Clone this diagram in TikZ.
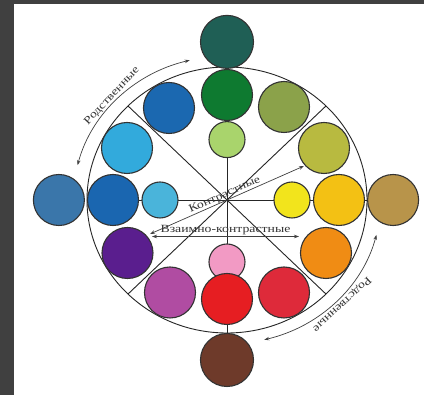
\documentclass[tikz,border=0pt]{standalone}
\usepackage{fontspec}
\setmainfont{Liberation Serif}
\newfontfamily\wheelfont[FakeStretch=1.25]{Liberation Serif}
\usetikzlibrary{arrows.meta, positioning}

\definecolor{framegray}{RGB}{64,64,64}
\definecolor{cTeal}{RGB}{31,95,85}
\definecolor{cGreen}{RGB}{14,122,48}
\definecolor{cLightGreen}{RGB}{169,212,108}
\definecolor{cOlive}{RGB}{139,162,74}
\definecolor{cYellowOlive}{RGB}{184,186,64}
\definecolor{cYellow}{RGB}{242,228,28}
\definecolor{cYellowOrange}{RGB}{243,193,20}
\definecolor{cTan}{RGB}{184,148,74}
\definecolor{cOrange}{RGB}{240,140,20}
\definecolor{cRedRight}{RGB}{222,42,58}
\definecolor{cRed}{RGB}{230,30,34}
\definecolor{cPink}{RGB}{242,154,196}
\definecolor{cBrown}{RGB}{110,58,42}
\definecolor{cMagenta}{RGB}{176,76,162}
\definecolor{cPurple}{RGB}{90,30,142}
\definecolor{cBlue}{RGB}{26,102,176}
\definecolor{cSteel}{RGB}{58,118,170}
\definecolor{cLightBlue}{RGB}{74,180,218}
\definecolor{cCyan}{RGB}{50,170,220}
\definecolor{cBlueUp}{RGB}{27,104,176}

\begin{document}
\begin{tikzpicture}[x=1pt, y=1pt,
  dot/.style={circle, draw=black!80, line width=1.1pt, fill=#1, inner sep=0pt, minimum size=51pt},
  smalldot/.style={dot=#1, minimum size=36pt},
  outerdot/.style={dot=#1, minimum size=53pt},
  spoke/.style={draw=black!85, line width=0.9pt},
  pointer/.style={draw=black!75, line width=0.7pt,
    {Stealth[length=5pt,width=3.5pt]}-{Stealth[length=5pt,width=3.5pt]}},
  lbl/.style={font=\wheelfont\fontsize{11}{13}\selectfont, text=black!80, inner sep=1pt}]

% frame and page
\fill [framegray] (-227,-195) rectangle (197,200);
\fill [white] (-213,-195) rectangle (197,196);

% wheel and spokes
\coordinate (hub) at (0,0);
\foreach \ang/\nm in {0/e, 45/ne, 90/n, 135/nw, 180/w, 225/sw, 270/s, 315/se}
  \coordinate (rim\nm) at (\ang:140 and 133);
\draw [spoke] (hub) ellipse [x radius=140, y radius=133];
\draw [spoke] (rimn) -- (rims);
\draw [spoke] (rimw) -- (rime);
\draw [spoke] (rimnw) -- (rimse);
\draw [spoke] (rimne) -- (rimsw);

% colour circles
\node [dot=cGreen] (green) at (0,105) {};
\node [outerdot=cTeal] (teal) [above=0pt of green] {};
\node [smalldot=cLightGreen] (lgreen) [below=0pt of green] {};
\node [dot=cOlive] (olive) at (57,93) {};
\node [dot=cYellowOlive] (yolive) at (97,52) {};
\node [smalldot=cYellow] (yellow) at (65,0) {};
\node [dot=cYellowOrange] (yorange) at (112,0) {};
\node [dot=cTan] (tan) [right=2pt of yorange] {};
\node [dot=cOrange] (orange) at (99,-53) {};
\node [dot=cRedRight] (redr) at (57,-92.5) {};
\node [smalldot=cPink] (pink) at (0,-62) {};
\node [dot=cRed] (red) at (0,-99) {};
\node [outerdot=cBrown] (brown) at (0,-160) {};
\node [dot=cMagenta] (magenta) at (-57,-92.5) {};
\node [dot=cPurple] (purple) at (-99.5,-53) {};
\node [dot=cBlue] (blue) at (-114,0) {};
\node [dot=cSteel] (steel) [left=2pt of blue] {};
\node [smalldot=cLightBlue] (lblue) at (-67,0) {};
\node [dot=cCyan] (cyan) at (-100,52) {};
\node [dot=cBlueUp] (bluetop) at (-58,92) {};

% contrast arrows
\coordinate (contraA) at (-77,-34);
\coordinate (contraB) at (77,34);
\coordinate (mutualA) at (-75,-36.5);
\coordinate (mutualB) at (72,-36.5);
\draw [pointer] (contraA) -- (contraB);
\draw [pointer] (mutualA) -- (mutualB)
  node [lbl, midway, anchor=south] (mutuallbl) {Взаимно-контрастные};
\node [lbl, rotate=23.8, anchor=south, inner sep=0.5pt] (contralbl) at (hub) {Контрастные};

% related arcs
\coordinate (relA) at (104:154 and 144);
\coordinate (relB) at (-76:154 and 144);
\draw [pointer] (relA) arc [start angle=104, end angle=166, x radius=154, y radius=144];
\draw [pointer] (relB) arc [start angle=-76, end angle=-14, x radius=154, y radius=144];
\node [lbl, rotate=47, anchor=south] (rellblA) at (136:154 and 144) {Родственные};
\node [lbl, rotate=-137, anchor=south] (rellblB) at (-44:154 and 144) {Родственные};
\end{tikzpicture}
\end{document}
